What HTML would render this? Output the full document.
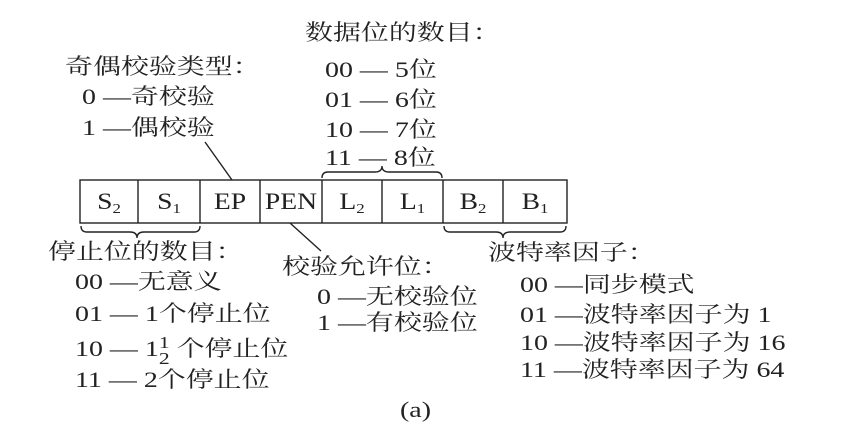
<!DOCTYPE html>
<html><head><meta charset="utf-8"><style>
body{margin:0;width:855px;height:444px;background:#fff;position:relative;overflow:hidden;font-family:"Liberation Serif","Noto Serif CJK SC",serif;color:#222}
.t{position:absolute;font-size:22px;line-height:24px;white-space:nowrap;transform:scaleX(1.27);transform-origin:0 50%}
svg{position:absolute;left:0;top:0}
.c{position:absolute;top:180px;height:43px;font-size:23px;line-height:43px;text-align:center;transform:scaleX(1.2)}
sub{font-size:14px;vertical-align:-4px}
.f{display:inline-block;vertical-align:middle;text-align:center;font-size:17px;line-height:16px}
</style></head><body>
<svg width="855" height="444">
<g stroke="#222" stroke-width="1.4" fill="none">
<rect x="80" y="180" width="487" height="43"/>
<line x1="138" y1="180" x2="138" y2="223"/><line x1="200" y1="180" x2="200" y2="223"/>
<line x1="260" y1="180" x2="260" y2="223"/><line x1="322" y1="180" x2="322" y2="223"/>
<line x1="382" y1="180" x2="382" y2="223"/><line x1="443" y1="180" x2="443" y2="223"/>
<line x1="503" y1="180" x2="503" y2="223"/>
<line x1="205" y1="142" x2="232" y2="180"/>
<line x1="290" y1="223" x2="321" y2="251"/>
<path d="M322 178 q0 -6 6 -6 h47 q7 0 7 -6 q0 6 7 6 h47 q6 0 6 6"/>
<path d="M81 226 q0 6 6 6 h43 q7 0 7 6 q0 -6 7 -6 h50 q6 0 6 -6"/>
<path d="M444 226 q0 6 6 6 h46 q7 0 7 6 q0 -6 7 -6 h50 q6 0 6 -6"/>
</g></svg>
<div class="c" style="left:80px;width:58px">S<sub>2</sub></div>
<div class="c" style="left:138px;width:62px">S<sub>1</sub></div>
<div class="c" style="left:200px;width:60px">EP</div>
<div class="c" style="left:260px;width:62px">PEN</div>
<div class="c" style="left:322px;width:60px">L<sub>2</sub></div>
<div class="c" style="left:382px;width:61px">L<sub>1</sub></div>
<div class="c" style="left:443px;width:60px">B<sub>2</sub></div>
<div class="c" style="left:503px;width:64px">B<sub>1</sub></div>

<div class="t" style="left:305px;top:21px">数据位的数目：</div>
<div class="t" style="left:325px;top:58px">00 — 5位</div>
<div class="t" style="left:325px;top:88px">01 — 6位</div>
<div class="t" style="left:325px;top:118px">10 — 7位</div>
<div class="t" style="left:325px;top:146px">11 — 8位</div>
<div class="t" style="left:65px;top:55px">奇偶校验类型：</div>
<div class="t" style="left:82px;top:85px">0 —奇校验</div>
<div class="t" style="left:82px;top:116px">1 —偶校验</div>

<div class="t" style="left:48px;top:240px">停止位的数目：</div>
<div class="t" style="left:75px;top:270px">00 —无意义</div>
<div class="t" style="left:75px;top:302px">01 — 1个停止位</div>
<div class="t" style="left:75px;top:335px">10 — 1<span class="f">1<br>2</span> 个停止位</div>
<div class="t" style="left:75px;top:368px">11 — 2个停止位</div>
<div class="t" style="left:282px;top:255px">校验允许位：</div>
<div class="t" style="left:317px;top:285px">0 —无校验位</div>
<div class="t" style="left:317px;top:311px">1 —有校验位</div>
<div class="t" style="left:488px;top:241px">波特率因子：</div>
<div class="t" style="left:520px;top:273px">00 —同步模式</div>
<div class="t" style="left:520px;top:303px">01 —波特率因子为 1</div>
<div class="t" style="left:520px;top:331px">10 —波特率因子为 16</div>
<div class="t" style="left:520px;top:358px">11 —波特率因子为 64</div>
<div class="t" style="left:400px;top:398px">(a)</div>
</body></html>
